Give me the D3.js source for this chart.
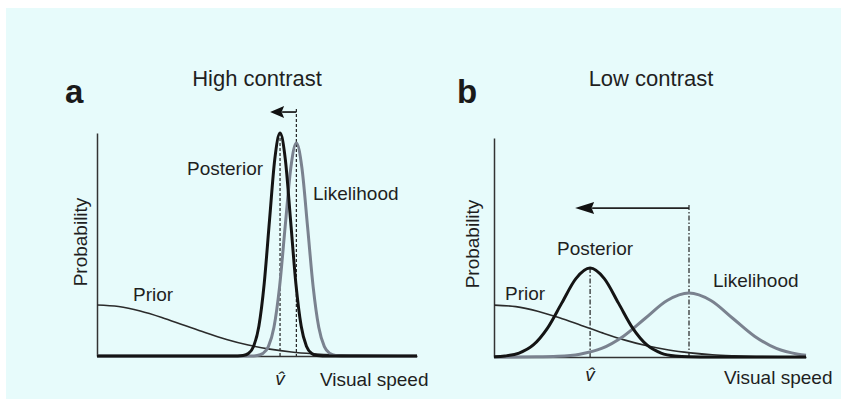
<!DOCTYPE html>
<html>
<head>
<meta charset="utf-8">
<script src="https://cdn.jsdelivr.net/npm/d3@7/dist/d3.min.js"></script>
<style>
  html, body { margin: 0; padding: 0; background: #fff; }
  svg { display: block; }
  text { font-family: "Liberation Sans", Arial, sans-serif; fill: #1f1f1f; }
</style>
</head>
<body>
<svg id="chart" width="843" height="402"></svg>
<script>
'use strict';

// values: [speed, probability], speed 0..100, probability 0..1 (top of y axis)
var priorA = [[0, 0.229], [6.75, 0.222], [13.5, 0.202], [20.25, 0.173], [27, 0.139], [33.75, 0.105],
  [40.5, 0.074], [47.25, 0.049], [54, 0.031], [60.75, 0.018], [67.5, 0.010], [74.25, 0.005],
  [81, 0.003], [94.5, 0.0005], [100, 0.0003]];
var likelihoodA = [[0, 0], [48, 0], [50.05, 0.002], [51.8, 0.011], [53.55, 0.042], [55.3, 0.129],
  [57.05, 0.31], [58.8, 0.58], [60.55, 0.842], [62.3, 0.955], [64.05, 0.842], [65.8, 0.58],
  [67.55, 0.31], [69.3, 0.129], [71.05, 0.042], [72.8, 0.011], [74.55, 0.002], [76.5, 0], [100, 0]];
var posteriorA = [[0, 0], [44, 0], [45.65, 0.002], [47.3, 0.011], [48.95, 0.044], [50.6, 0.135],
  [52.25, 0.325], [53.9, 0.607], [55.55, 0.882], [57.2, 1], [58.85, 0.882], [60.5, 0.607],
  [62.15, 0.325], [63.8, 0.135], [65.45, 0.044], [67.1, 0.011], [68.75, 0.002], [70.5, 0], [100, 0]];

var priorB = [[0, 0.237], [7, 0.230], [14, 0.209], [21, 0.179], [28, 0.144], [35, 0.109],
  [42, 0.077], [49, 0.051], [56, 0.032], [63, 0.019], [70, 0.010], [77, 0.0054], [84, 0.0026],
  [98, 0.0005], [100, 0.0004]];
var likelihoodB = [[0, 0], [6.5, 0.0001], [13.5, 0.0006], [20.5, 0.0032], [27.5, 0.013],
  [34.5, 0.039], [41.5, 0.095], [48.5, 0.177], [55.5, 0.258], [62.5, 0.292], [69.5, 0.258],
  [76.5, 0.177], [83.5, 0.095], [90.5, 0.039], [97.5, 0.013], [100, 0.008]];
var posteriorB = [[0, 0.001], [3.5, 0.0045], [8.05, 0.018], [12.6, 0.055], [17.15, 0.132],
  [21.7, 0.246], [26.25, 0.358], [30.8, 0.406], [35.35, 0.358], [39.9, 0.246], [44.45, 0.132],
  [49, 0.055], [53.55, 0.018], [58.1, 0.0045], [62.65, 0.001], [70, 0], [100, 0]];

// estimate marker (posterior peak) and shift arrow: [from speed, to speed, height]
var estimateA = [57.2, 1.0];
var estimateB = [30.8, 0.406];
var shiftA = [62.3, 54.1, 1.094];
var shiftB = [62.5, 26.0, 0.68];

var panelLetters = ['a', 'b'];
var panelTitles = ['High contrast', 'Low contrast'];
var curveNames = ['Prior', 'Likelihood', 'Posterior'];
var axisLabels = ['Probability', 'Visual speed', 'v\u0302'];

var svg = d3.select('#chart');

svg.append('rect')
  .attr('x', 6).attr('y', 8)
  .attr('width', 835).attr('height', 391)
  .attr('fill', '#e7fbfb');

var panels = [
  {
    box: {left: 97, right: 417, top: 133, bottom: 356},
    prior: priorA, likelihood: likelihoodA, posterior: posteriorA,
    estimate: estimateA, shift: shiftA, dash: '3,2',
    head: [14, 6],
    text: {
      title: [257, 86], letter: [65, 103],
      Posterior: [187, 175], Likelihood: [313, 200], Prior: [133, 301],
      yLabel: [87, 242], xLabel: [320, 386], hat: 385
    }
  },
  {
    box: {left: 494, right: 806, top: 138, bottom: 357},
    prior: priorB, likelihood: likelihoodB, posterior: posteriorB,
    estimate: estimateB, shift: shiftB, dash: '5,2,1.5,2',
    head: [19, 6],
    text: {
      title: [651, 86], letter: [457, 103],
      Posterior: [557, 255], Likelihood: [713, 287], Prior: [505, 300],
      yLabel: [479, 244], xLabel: [724, 384], hat: 381
    }
  }
];

var styles = {
  Prior: {stroke: '#2b2b2b', width: 1.6},
  Likelihood: {stroke: '#7a828f', width: 3},
  Posterior: {stroke: '#141414', width: 3}
};

panels.forEach(function(p, i) {
  var x = d3.scaleLinear().domain([0, 100]).range([p.box.left, p.box.right]),
      y = d3.scaleLinear().domain([0, 1]).range([p.box.bottom, p.box.top]),
      g = svg.append('g').attr('class', 'panel-' + panelLetters[i]),
      line = d3.line()
        .x(function(d) { return x(d[0]); })
        .y(function(d) { return y(d[1]); })
        .curve(d3.curveMonotoneX);

  // axes: bare lines, no ticks
  g.append('g')
    .attr('transform', 'translate(' + p.box.left + ',0)')
    .call(d3.axisLeft(y).tickValues([]).tickSizeOuter(0))
    .call(function(s) { s.select('.domain').attr('stroke', '#333').attr('stroke-width', 1.5); });
  g.append('g')
    .attr('transform', 'translate(0,' + p.box.bottom + ')')
    .call(d3.axisBottom(x).tickValues([]).tickSizeOuter(0))
    .call(function(s) { s.select('.domain').attr('stroke', '#333').attr('stroke-width', 1.5); });

  // dashed guides
  g.append('line')
    .attr('x1', x(p.estimate[0])).attr('x2', x(p.estimate[0]))
    .attr('y1', y(p.estimate[1])).attr('y2', y(0))
    .attr('stroke', '#222').attr('stroke-width', 1.2)
    .attr('stroke-dasharray', p.dash);
  g.append('line')
    .attr('x1', x(p.shift[0])).attr('x2', x(p.shift[0]))
    .attr('y1', y(p.shift[2]) - 3).attr('y2', y(0))
    .attr('stroke', '#222').attr('stroke-width', 1.2)
    .attr('stroke-dasharray', p.dash);

  // shift arrow
  var ay = y(p.shift[2]), tip = x(p.shift[1]),
      headLen = p.head[0], headW = p.head[1];
  g.append('line')
    .attr('x1', x(p.shift[0])).attr('x2', tip + headLen - 2)
    .attr('y1', ay).attr('y2', ay)
    .attr('stroke', '#222').attr('stroke-width', 1.8);
  g.append('path')
    .attr('d', 'M' + tip + ',' + ay +
      'L' + (tip + headLen) + ',' + (ay - headW) +
      'L' + (tip + headLen - 2.5) + ',' + ay +
      'L' + (tip + headLen) + ',' + (ay + headW) + 'Z')
    .attr('fill', '#111');

  // curves
  curveNames.forEach(function(name) {
    var key = name.toLowerCase();
    g.append('path')
      .datum(p[key])
      .attr('d', line)
      .attr('fill', 'none')
      .attr('stroke', styles[name].stroke)
      .attr('stroke-width', styles[name].width)
      .attr('stroke-linejoin', 'round');
  });

  // text
  g.append('text')
    .attr('x', p.text.title[0]).attr('y', p.text.title[1])
    .attr('text-anchor', 'middle')
    .style('font-size', '22px')
    .text(panelTitles[i]);
  g.append('text')
    .attr('x', p.text.letter[0]).attr('y', p.text.letter[1])
    .style('font-size', '33px').style('font-weight', 'bold')
    .style('fill', '#1a1a1a')
    .text(panelLetters[i]);
  curveNames.forEach(function(name) {
    g.append('text')
      .attr('x', p.text[name][0]).attr('y', p.text[name][1])
      .style('font-size', '19px')
      .text(name);
  });
  g.append('text')
    .attr('transform', 'translate(' + p.text.yLabel[0] + ',' + p.text.yLabel[1] + ') rotate(-90)')
    .attr('text-anchor', 'middle')
    .style('font-size', '19px')
    .text(axisLabels[0]);
  g.append('text')
    .attr('x', p.text.xLabel[0]).attr('y', p.text.xLabel[1])
    .style('font-size', '19px')
    .text(axisLabels[1]);
  g.append('text')
    .attr('x', x(p.estimate[0])).attr('y', p.text.hat)
    .attr('text-anchor', 'middle')
    .style('font-size', '19px').style('font-style', 'italic')
    .text(axisLabels[2]);
});
</script>
</body>
</html>
